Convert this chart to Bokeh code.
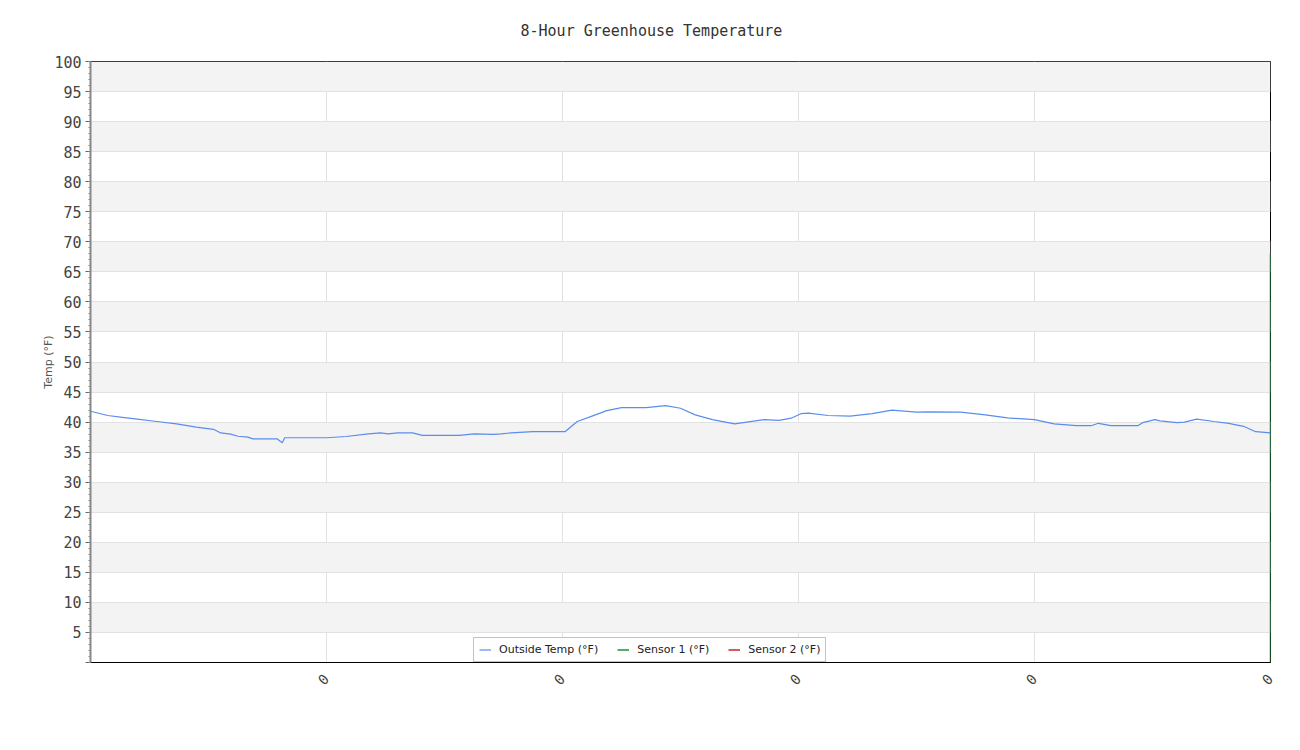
from math import pi
from bokeh.plotting import figure
from bokeh.models import Range1d, FixedTicker, Legend, LegendItem
from bokeh.embed import file_html
from bokeh.resources import INLINE

# ---- data ----
minutes = [0, 7, 13, 19, 27, 35, 43, 50, 53, 57, 60, 64, 66, 76, 78, 79, 96, 104, 113,
           118, 121, 125, 131, 135, 150, 156, 164, 167, 171, 180, 190, 193, 198, 204, 210,
           216, 226, 234, 240, 246, 253, 262, 274, 280, 285, 289, 292, 300, 309, 318, 326,
           336, 341, 354, 364, 373, 384, 392, 401, 407, 410, 415, 426, 428, 433, 435, 442,
           445, 450, 457, 463, 469, 474, 480]
outside_temp = [41.8, 41.1, 40.8, 40.5, 40.1, 39.7, 39.15, 38.8, 38.2, 38.0, 37.65, 37.5, 37.2,
                37.2, 36.55, 37.4, 37.4, 37.6, 38.05, 38.2, 38.05, 38.2, 38.2, 37.8, 37.8, 38.05,
                37.95, 38.05, 38.2, 38.4, 38.4, 38.4, 40.1, 41.0, 41.9, 42.4, 42.4, 42.75, 42.3,
                41.2, 40.4, 39.7, 40.4, 40.3, 40.65, 41.4, 41.5, 41.1, 41.0, 41.4, 42.0, 41.65,
                41.7, 41.65, 41.2, 40.7, 40.4, 39.7, 39.4, 39.4, 39.8, 39.4, 39.4, 39.9, 40.4,
                40.2, 39.9, 40.0, 40.5, 40.1, 39.8, 39.3, 38.4, 38.2]
sensor1_minutes = [480, 480]
sensor1_temp = [68, 0]
sensor2_minutes = [480, 480]
sensor2_temp = [0, 0]

x_ticks = [0, 96, 192, 288, 384, 480]
x_tick_labels = ["", "0", "0", "0", "0", "0"]
y_ticks = list(range(0, 101, 5))
y_tick_labels = [""] + [str(v) for v in y_ticks[1:]]

title_text = "8-Hour Greenhouse Temperature"
y_label = "Temp (°F)"
series_names = ["Outside Temp (°F)", "Sensor 1 (°F)", "Sensor 2 (°F)"]
colors = ["#5a8ded", "#1f8f3a", "#c62828"]

p = figure(frame_width=1180, frame_height=601,
           min_border_left=90, min_border_right=20, min_border_top=61, min_border_bottom=80,
           x_range=Range1d(0, 480), y_range=Range1d(0, 100),
           output_backend="svg", toolbar_location=None,
           background_fill_color="white", border_fill_color="white")

p.title.text = title_text
p.title.align = "left"
p.title.offset = 430
p.title.vertical_align = "top"
p.title.text_font = "DejaVu Sans Mono"
p.title.text_font_size = "15px"
p.title.text_font_style = "normal"
p.title.text_color = "#333333"
p.title.standoff = 40

p.outline_line_color = "black"
p.outline_line_width = 1
p.outline_line_alpha = 1

# y axis
ya = p.yaxis[0]
ya.ticker = FixedTicker(ticks=y_ticks, minor_ticks=list(range(0, 101, 1)))
ya.major_label_overrides = {t: l for t, l in zip(y_ticks, y_tick_labels)}
ya.major_label_text_font = "DejaVu Sans Mono"
ya.major_label_text_font_size = "15px"
ya.major_label_text_color = "#444444"
ya.major_label_standoff = 4
ya.axis_line_color = "#888888"
ya.axis_line_width = 2
ya.major_tick_in = 0
ya.major_tick_out = 5
ya.major_tick_line_color = "#666666"
ya.minor_tick_in = 0
ya.minor_tick_out = 2
ya.minor_tick_line_color = "#888888"
ya.axis_label = y_label
ya.axis_label_text_font = "DejaVu Sans"
ya.axis_label_text_font_size = "11px"
ya.axis_label_text_font_style = "normal"
ya.axis_label_text_color = "#555555"
ya.axis_label_standoff = -4

# x axis
xa = p.xaxis[0]
xa.ticker = FixedTicker(ticks=x_ticks, minor_ticks=[])
xa.major_label_overrides = {t: l for t, l in zip(x_ticks, x_tick_labels)}
xa.major_label_orientation = pi / 4
xa.major_label_text_font = "DejaVu Sans Mono"
xa.major_label_text_font_size = "14px"
xa.major_label_text_color = "#444444"
xa.major_label_standoff = 8
xa.axis_line_color = "black"
xa.major_tick_line_color = None
xa.minor_tick_line_color = None

# grids
p.ygrid.ticker = FixedTicker(ticks=y_ticks)
p.ygrid.grid_line_color = "#e2e2e2"
p.ygrid.band_fill_color = "#f3f3f3"
p.ygrid.band_fill_alpha = 1
p.xgrid.ticker = FixedTicker(ticks=x_ticks)
p.xgrid.grid_line_color = "#e2e2e2"

r0 = p.line(minutes, outside_temp, line_color=colors[0], line_width=1.2)
r1 = p.line(sensor1_minutes, sensor1_temp, line_color=colors[1], line_width=1.5)
r2 = p.line(sensor2_minutes, sensor2_temp, line_color=colors[2], line_width=1.5)

legend = Legend(items=[LegendItem(label=series_names[0], renderers=[r0]),
                       LegendItem(label=series_names[1], renderers=[r1]),
                       LegendItem(label=series_names[2], renderers=[r2])],
                location=(383, 0), orientation="horizontal",
                margin=0, padding=5, spacing=19, glyph_width=12, glyph_height=11,
                label_standoff=8, label_height=11,
                label_text_font="DejaVu Sans", label_text_font_size="11px",
                label_text_color="#222222",
                border_line_color="#888888", border_line_width=1,
                background_fill_color="white", background_fill_alpha=1)
p.add_layout(legend)

open("out.html", "w").write(file_html(p, INLINE))
